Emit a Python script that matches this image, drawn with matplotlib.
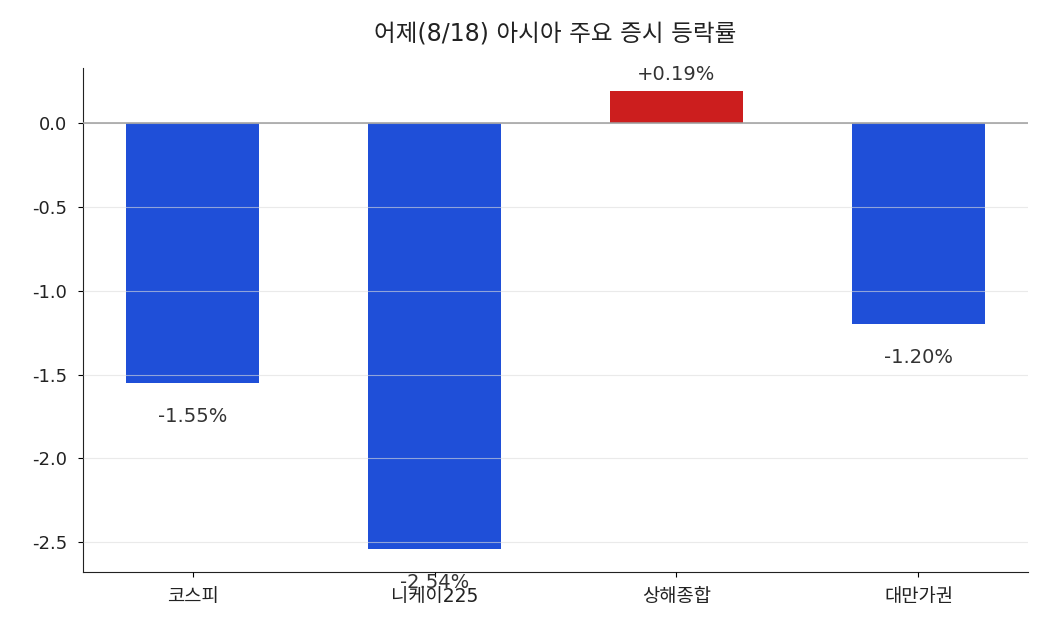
import numpy as np
import matplotlib.pyplot as plt

plt.rcParams['font.family'] = ['DejaVu Sans', 'Noto Sans CJK KR']
plt.rcParams['axes.unicode_minus'] = False

blue = '#1f4fd8'
red = '#cc1e1e'

markets = ['코스피', '니케이225', '상해종합', '대만가권']
changes = [-1.55, -2.54, 0.19, -1.20]

if __name__ == "__main__":

    fig = plt.figure(figsize=(10.5, 6.3), dpi=100)
    ax = fig.add_axes([83/1050, 58/630, 945/1050, 504/630])

    x = np.arange(len(markets))
    colors = [red if v > 0 else blue for v in changes]
    ax.bar(x, changes, width=0.55, color=colors, zorder=1)

    ax.yaxis.grid(True, color='#dddddd', lw=0.8, alpha=0.6, zorder=3)
    ax.set_axisbelow(False)
    ax.axhline(0, color='#9e9e9e', lw=1.1, zorder=4)

    for xi, v in zip(x, changes):
        if v >= 0:
            ax.text(xi, v + 0.1, f"+{v:.2f}%", ha='center', va='center',
                    fontsize=14, color='#333333')
        else:
            ax.text(xi, v - 0.2, f"{v:.2f}%", ha='center', va='center',
                    fontsize=14, color='#333333')

    ax.set_xticks(x)
    ax.set_xticklabels(markets, fontsize=13.5, color='#222222')
    ax.tick_params(axis='x', pad=7)
    ax.tick_params(axis='y', labelsize=13, labelcolor='#222222', pad=8)
    ax.set_yticks([0.0, -0.5, -1.0, -1.5, -2.0, -2.5])
    ax.set_yticklabels(['0.0', '-0.5', '-1.0', '-1.5', '-2.0', '-2.5'])

    ax.spines['top'].set_visible(False)
    ax.spines['right'].set_visible(False)
    ax.spines['left'].set_color('#222222')
    ax.spines['bottom'].set_color('#222222')

    ax.set_title("어제(8/18) 아시아 주요 증시 등락률", fontsize=17, pad=20,
                 color='#222222')

    fig.savefig("out.png", dpi=100)
